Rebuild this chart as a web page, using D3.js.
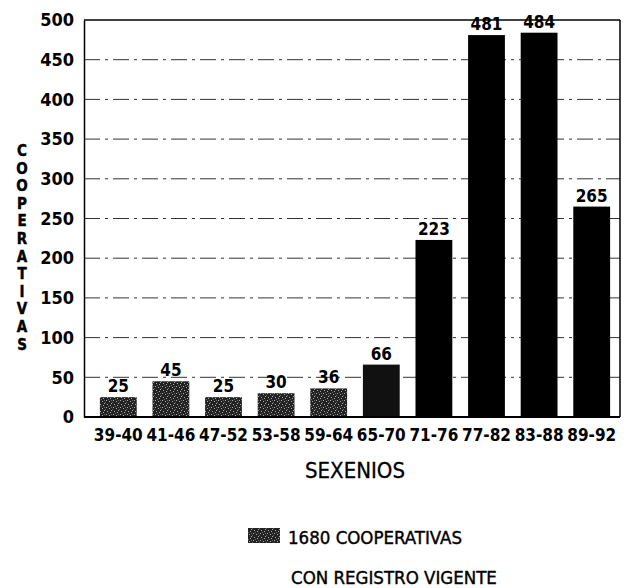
<!DOCTYPE html>
<html><head><meta charset="utf-8">
<script src="https://cdn.jsdelivr.net/npm/d3@7"></script>
<style>body{margin:0;background:#fff}svg{display:block}</style>
</head><body>
<svg id="c" width="627" height="588"></svg>
<script>
const categories = ["39-40","41-46","47-52","53-58","59-64","65-70","71-76","77-82","83-88","89-92"];
const values = [25,45,25,30,36,66,223,481,484,265];
const yTicks = [0,50,100,150,200,250,300,350,400,450,500];
const yTitle = "COOPERATIVAS";
const xTitle = "SEXENIOS";
const legendLines = ["1680 COOPERATIVAS","CON REGISTRO VIGENTE"];

const svg = d3.select("#c");
const font = "'Liberation Sans Narrow','DejaVu Sans Condensed','Liberation Sans',Arial,sans-serif";
const L = 84, R = 620, T = 20, B = 417;

const defs = svg.append("defs");
const pat = defs.append("pattern").attr("id","speck").attr("patternUnits","userSpaceOnUse").attr("width",7).attr("height",7);
pat.append("rect").attr("width",7).attr("height",7).attr("fill","#222");
[[1,1],[4,2],[2,5],[6,4],[5,6]].forEach(([a,b])=>pat.append("rect").attr("x",a).attr("y",b).attr("width",1).attr("height",1).attr("fill","#aaa"));
[[3,0],[0,3],[6,1]].forEach(([a,b])=>pat.append("rect").attr("x",a).attr("y",b).attr("width",1).attr("height",1).attr("fill","#666"));

const x = d3.scaleBand().domain(categories).range([92,618]).paddingInner(0.3).paddingOuter(0.15);
const y = d3.scaleLinear().domain([0,500]).range([B,T]);

// gridlines
svg.append("g").selectAll("line").data(yTicks.filter(t=>t>0 && t<500)).join("line")
  .attr("x1",L).attr("x2",R).attr("y1",d=>y(d)).attr("y2",d=>y(d))
  .attr("stroke","#333").attr("stroke-width",1).attr("stroke-dasharray","16,5,3,5");

// frame
svg.append("line").attr("x1",L).attr("x2",R).attr("y1",y(500)).attr("y2",y(500)).attr("stroke","#000").attr("stroke-width",1.5);
svg.append("line").attr("x1",R).attr("x2",R).attr("y1",y(500)).attr("y2",B).attr("stroke","#000").attr("stroke-width",1.5);

// bars
svg.append("g").selectAll("rect").data(values).join("rect")
  .attr("x",(d,i)=>x(categories[i])).attr("width",x.bandwidth())
  .attr("y",d=>y(d)).attr("height",d=>B-y(d))
  .attr("fill",(d,i)=> i<5 ? "url(#speck)" : (i===5 ? "#111" : "#000"));

// value labels
svg.append("g").selectAll("text").data(values).join("text")
  .attr("x",(d,i)=>x(categories[i])+x.bandwidth()/2).attr("y",d=>y(d)-5)
  .attr("text-anchor","middle").attr("font-family",font).attr("font-weight","bold").attr("font-size",17)
  .text(d=>d);

// y axis
const ya = svg.append("g").attr("transform",`translate(${L},0)`).call(d3.axisLeft(y).tickValues(yTicks).tickSize(0).tickPadding(10));
ya.select(".domain").attr("stroke","#000").attr("stroke-width",1.5);
ya.selectAll("text").attr("font-family",font).attr("font-weight","bold").attr("font-size",18).attr("fill","#000");

// x axis
const xa = svg.append("g").attr("transform",`translate(0,${B})`).call(d3.axisBottom(x).tickSize(0).tickPadding(12));
xa.select(".domain").attr("d",`M${L},0H${R}`).attr("stroke","#000").attr("stroke-width",2);
xa.selectAll("text").attr("font-family",font).attr("font-weight","bold").attr("font-size",17).attr("fill","#000");

// y title stacked letters
svg.append("g").selectAll("text").data(yTitle.split("")).join("text")
  .attr("x",22).attr("y",(d,i)=>156+i*17.6).attr("text-anchor","middle")
  .attr("font-family",font).attr("font-weight","bold").attr("font-size",15)
  .attr("stroke","#000").attr("stroke-width",0.4).text(d=>d);

// x title
svg.append("text").attr("x",355).attr("y",478).attr("text-anchor","middle")
  .attr("font-family",font).attr("font-size",22).attr("stroke","#000").attr("stroke-width",0.3).text(xTitle);

// legend
svg.append("rect").attr("x",248).attr("y",528).attr("width",32).attr("height",15).attr("fill","url(#speck)");
svg.append("text").attr("x",288).attr("y",544).attr("font-family",font).attr("font-size",18.5).attr("stroke","#000").attr("stroke-width",0.4).text(legendLines[0]);
svg.append("text").attr("x",291).attr("y",584).attr("font-family",font).attr("font-size",18.5).attr("stroke","#000").attr("stroke-width",0.4).text(legendLines[1]);
</script>
</body></html>
